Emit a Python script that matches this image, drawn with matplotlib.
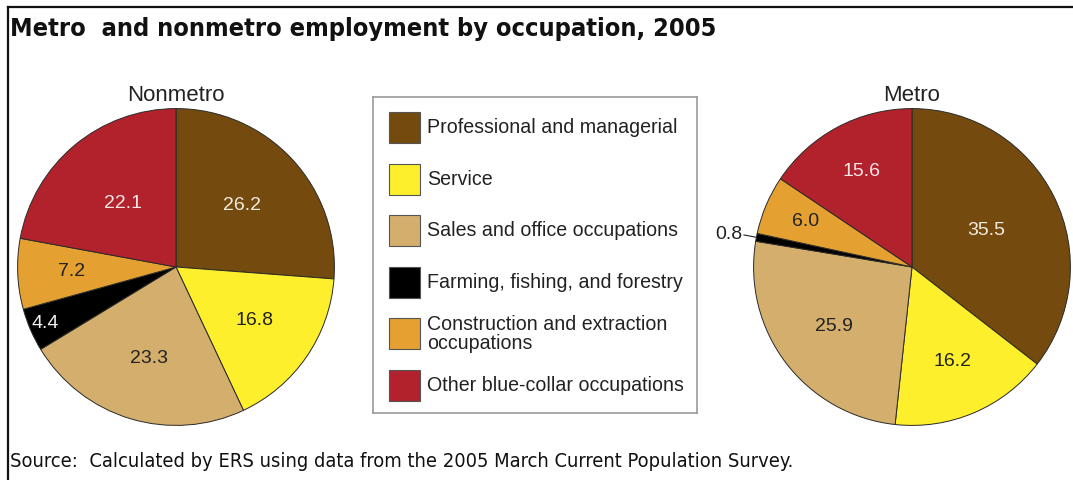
import matplotlib
matplotlib.use("Agg")
import matplotlib.pyplot as plt
from matplotlib.patches import Rectangle
from matplotlib.lines import Line2D
import numpy as np

categories = ["Professional and managerial", "Service", "Sales and office occupations",
              "Farming, fishing, and forestry", "Construction and extraction\noccupations",
              "Other blue-collar occupations"]
nonmetro = [26.2, 16.8, 23.3, 4.4, 7.2, 22.1]
metro = [35.5, 16.2, 25.9, 0.8, 6.0, 15.6]
colors = ["#744a0e", "#fdef2b", "#d3ae6c", "#000000", "#e4a132", "#b2222c"]
label_colors = ["#f2ece0", "#222222", "#222222", "#f0f0f0", "#222222", "#f5e6e6"]

plt.rcParams["font.family"] = ["Liberation Sans", "DejaVu Sans"]

W, H = 1073, 480
fig = plt.figure(figsize=(W / 100, H / 100), dpi=100)
fig.patch.set_facecolor("white")


def fx(px):
    return px / W


def fy(py):
    return 1 - py / H


# frame lines at top and left
fig.add_artist(Line2D([fx(8), 1], [fy(7), fy(7)], color="#111111", lw=1.6))
fig.add_artist(Line2D([fx(8), fx(8)], [fy(7), 0], color="#111111", lw=1.6))

fig.text(fx(10), fy(36), "Metro  and nonmetro employment by occupation, 2005",
         family="DejaVu Sans", stretch="condensed", weight="bold",
         fontsize=18.2, va="baseline", ha="left", color="#111111")
fig.text(fx(10), fy(467), "Source:  Calculated by ERS using data from the 2005 March Current Population Survey.",
         family="DejaVu Sans", stretch="condensed", fontsize=14.4,
         va="baseline", ha="left", color="#111111")


def draw_pie(cx, cy, r, values, title, label_r):
    ax = fig.add_axes([fx(cx - r), fy(cy + r), (2 * r) / W, (2 * r) / H])
    wedges, _ = ax.pie(values, colors=colors, startangle=90, counterclock=False,
                       wedgeprops=dict(edgecolor="#2a2a2a", linewidth=0.7))
    ax.set_xlim(-1.01, 1.01)
    ax.set_ylim(-1.01, 1.01)
    ax.set_title(title, fontsize=16, color="#222222", pad=4)
    for i, (w, v) in enumerate(zip(wedges, values)):
        ang = np.deg2rad((w.theta1 + w.theta2) / 2)
        if label_r[i] is None:
            # small slice: label outside with a short leader
            x0, y0 = np.cos(ang), np.sin(ang)
            ax.plot([x0, x0 * 1.08], [y0, y0 * 1.08], color="#222222", lw=0.8, clip_on=False)
            ax.text(x0 * 1.09, y0 * 1.09, f"{v:.1f}", ha="right", va="center",
                    fontsize=14, color="#222222")
            continue
        ax.text(label_r[i] * np.cos(ang), label_r[i] * np.sin(ang), f"{v:.1f}",
                ha="center", va="center", fontsize=14, color=label_colors[i])
    return ax


draw_pie(176, 267, 160, nonmetro, "Nonmetro", [0.57, 0.6, 0.6, 0.9, 0.66, 0.52])
draw_pie(912, 267, 160, metro, "Metro", [0.52, 0.65, 0.62, None, 0.73, 0.68])

# legend box
lg = fig.add_axes([fx(373), fy(413), 324 / W, 316 / H])
lg.set_xlim(0, 324)
lg.set_ylim(316, 0)
lg.set_xticks([])
lg.set_yticks([])
for s in lg.spines.values():
    s.set_color("#9a9a9a")
    s.set_linewidth(1.2)
for i, (cat, c) in enumerate(zip(categories, colors)):
    y = 15 + i * 51.6
    lg.add_patch(Rectangle((16, y), 31, 31, facecolor=c, edgecolor="#555555", lw=0.8))
    lg.text(54, y + 15.5, cat, ha="left", va="center", fontsize=14.1,
            color="#222222", linespacing=0.95)

fig.savefig("out.png", dpi=100)
